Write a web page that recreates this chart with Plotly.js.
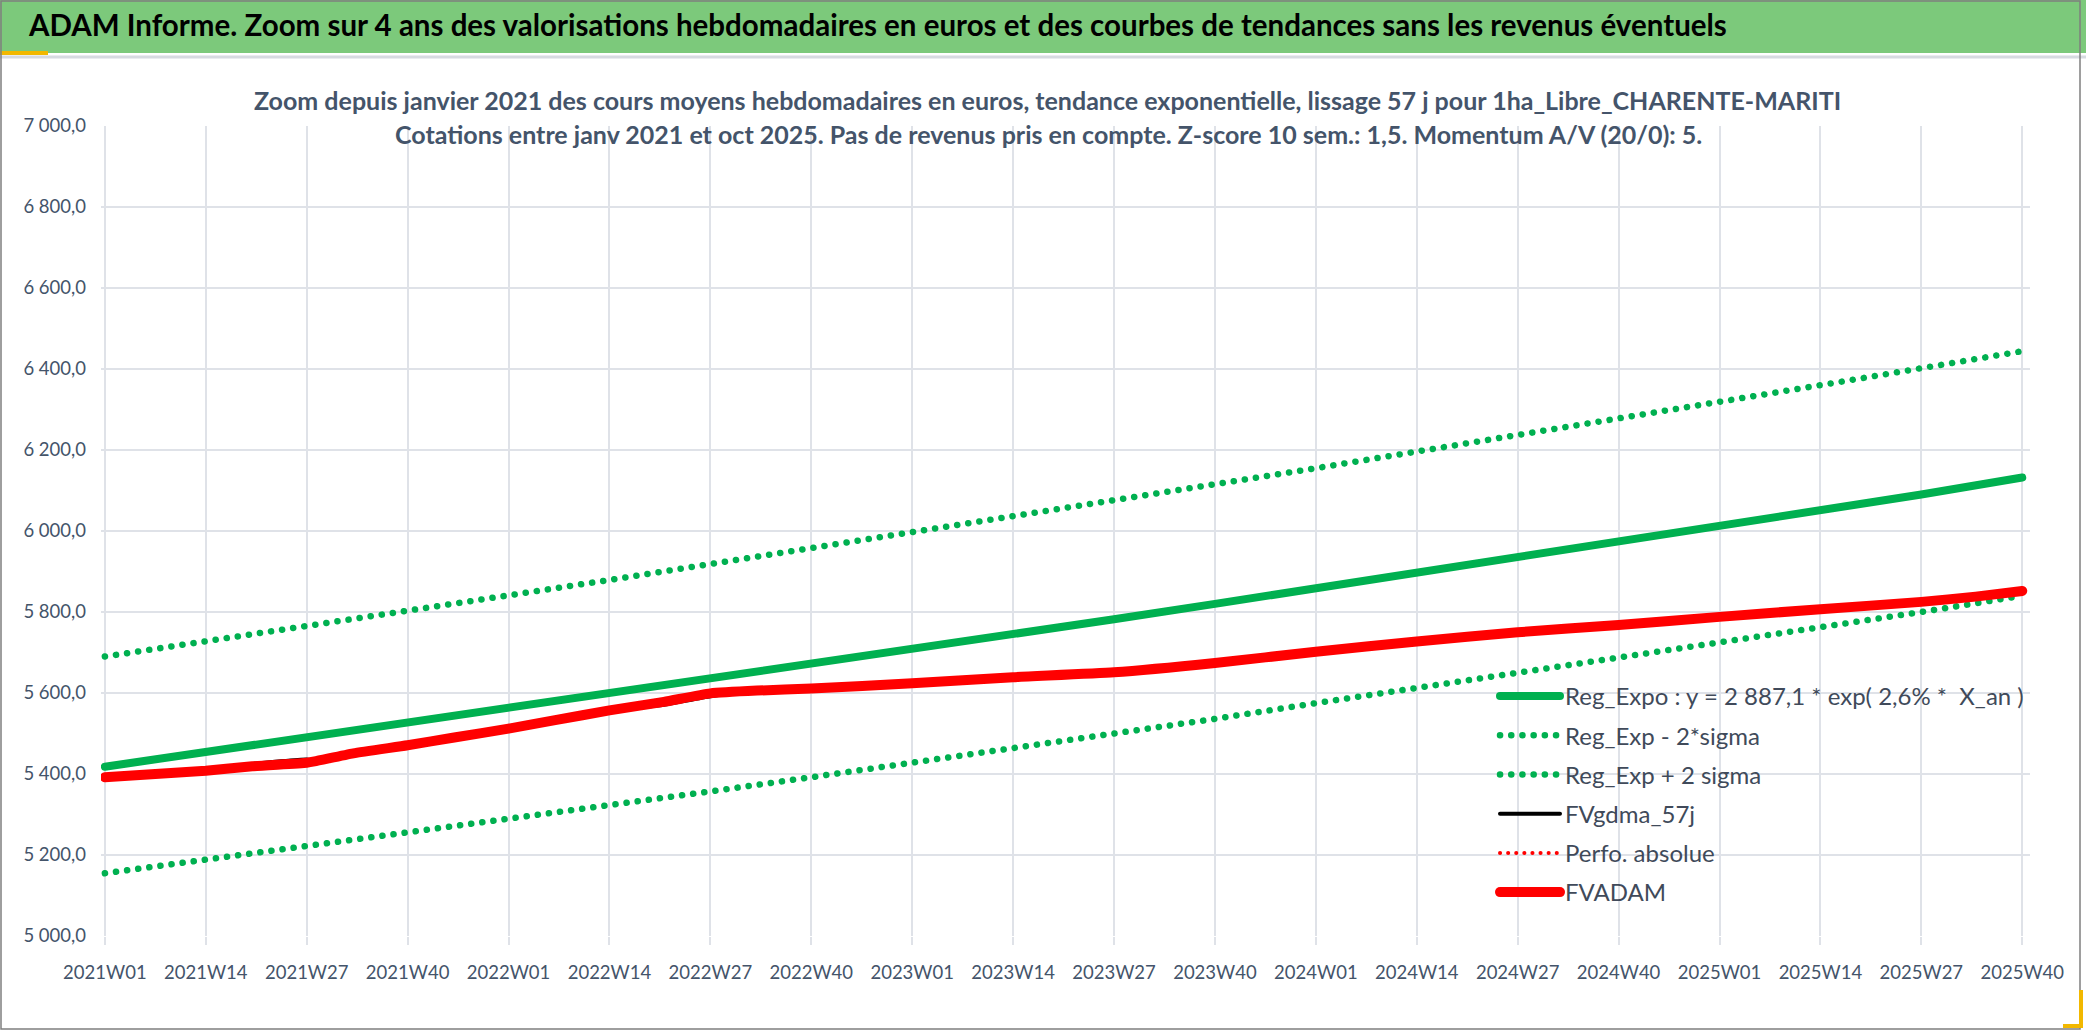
<!DOCTYPE html>
<html>
<head>
<meta charset="utf-8">
<script src="https://cdn.plot.ly/plotly-3.0.1.min.js"></script>
<style>
html,body{margin:0;padding:0;background:#ffffff;overflow:hidden;}
#chart{width:2086px;height:1031px;}
#chart path.js-line{stroke-linecap:round;stroke-linejoin:round;}
</style>
</head>
<body>
<div id="chart"></div>
<script>
// ---------- data ----------
const tickLabels = ['2021W01','2021W14','2021W27','2021W40','2022W01','2022W14','2022W27','2022W40',
  '2023W01','2023W14','2023W27','2023W40','2024W01','2024W14','2024W27','2024W40',
  '2025W01','2025W14','2025W27','2025W40'];

const regWeeks = ['2021W01','2021W14','2021W27','2021W40','2022W01','2022W14','2022W27','2022W40',
  '2023W01','2023W14','2023W27','2023W40','2024W01','2024W14','2024W27','2024W40',
  '2025W01','2025W14','2025W27','2025W40'];
const regExpo  = [5418,5454,5490,5526,5562,5598,5635,5671,5708,5745,5782,5820,5858,5896,5934,5973,6012,6051,6090,6132];
const regMinus = [5155,5188,5221,5254,5288,5322,5357,5392,5427,5463,5499,5536,5575,5612,5649,5686,5724,5762,5800,5840];
const regPlus  = [5690,5727,5765,5803,5841,5879,5918,5957,5996,6035,6075,6115,6155,6196,6236,6277,6318,6360,6402,6444];

const adamWeeks = ['2021W01','2021W14','2021W20','2021W27','2021W28','2021W33','2021W40','2021W46',
  '2022W01','2022W07','2022W14','2022W21','2022W27','2022W33','2022W40',
  '2023W01','2023W14','2023W27','2023W40','2024W01','2024W14','2024W27','2024W40',
  '2025W01','2025W14','2025W27','2025W34','2025W40'];
const fvadam = [5392,5408,5419,5428,5431,5451,5471,5490,5512,5533,5557,5578,5599,5606,5611,
  5624,5639,5651,5674,5702,5727,5750,5768,5788,5807,5825,5838,5852];
const fvgdma = [5392,5408,5425,5436,5433,5451,5471,5490,5512,5533,5556,5571,5592,5604,5611,
  5624,5639,5651,5674,5702,5727,5750,5768,5788,5807,5825,5837,5848];
const perfoAbs = [5392,5408,5419,5428,5431,5451,5471,5490,5512,5533,5557,5578,5599,5606,5611,
  5624,5639,5651,5674,5702,5727,5750,5768,5788,5807,5825,5838,5852];

const seriesNames = ['Reg_Expo : y = 2 887,1 * exp( 2,6% *  X_an )','Reg_Exp - 2*sigma','Reg_Exp + 2 sigma',
  'FVgdma_57j','Perfo. absolue','FVADAM'];

const headerTitle = 'ADAM Informe. Zoom sur 4 ans des valorisations hebdomadaires en euros et des courbes de tendances sans les revenus éventuels';
const subTitle1 = 'Zoom depuis janvier 2021 des cours moyens hebdomadaires en euros, tendance exponentielle, lissage 57 j pour 1ha_Libre_CHARENTE-MARITI';
const subTitle2 = 'Cotations entre janv 2021 et oct 2025. Pas de revenus pris en compte. Z-score 10 sem.: 1,5. Momentum A/V (20/0): 5.';

// ---------- helpers ----------
function wk(s){ return (parseInt(s.slice(0,4),10)-2021)*52 + parseInt(s.slice(5),10) - 1; }
const W=2086, H=1031, L=101, R=56, T=126, B=95;
const PW=W-L-R, PH=H-T-B;
const fx = px => (px-L)/PW;
const fy = py => (H-B-py)/PH;

const FONT = 'Lato, "Open Sans", sans-serif';
const TXT = '#44546a';
const GREEN = '#00b050', RED = '#ff0000';
const GRID = '#dfe2e8';

const traces = [
  {name: seriesNames[0], legendgroup:'g0', x: regWeeks.map(wk), y: regExpo, mode:'lines', line:{color:GREEN, width:8}},
  {name: seriesNames[1], legendgroup:'g1', x: regWeeks.map(wk), y: regMinus, mode:'lines', line:{color:GREEN, width:6.5, dash:'0.1px,11.1px'}},
  {name: seriesNames[2], legendgroup:'g2', x: regWeeks.map(wk), y: regPlus, mode:'lines', line:{color:GREEN, width:6.5, dash:'0.1px,11.1px'}},
  {name: seriesNames[3], legendgroup:'g3', x: adamWeeks.map(wk), y: fvgdma, mode:'lines', line:{color:'#000000', width:4, shape:'spline', smoothing:0.5}},
  {name: seriesNames[4], legendgroup:'g4', x: adamWeeks.map(wk), y: perfoAbs, mode:'lines', line:{color:RED, width:4, dash:'0.1px,8px', shape:'spline', smoothing:0.5}},
  {name: seriesNames[5], legendgroup:'g5', x: adamWeeks.map(wk), y: fvadam, mode:'lines', line:{color:RED, width:10, shape:'spline', smoothing:0.5}}
];

const layout = {
  width: W, height: H,
  margin: {l:L, r:R, t:T, b:B},
  paper_bgcolor: '#ffffff',
  plot_bgcolor: '#ffffff',
  separators: ', ',
  showlegend: true,
  title: {
    text: headerTitle,
    xref: 'container', yref: 'container',
    x: 29/W, xanchor: 'left',
    y: 1 - 26/H, yanchor: 'middle',
    font: {family: FONT, size: 29.5, color: '#000000', weight: 'bold'}
  },
  xaxis: {
    type: 'linear',
    range: [-0.5, 248],
    tickmode: 'array',
    tickvals: tickLabels.map(wk),
    ticktext: tickLabels,
    tickangle: 0,
    showgrid: true, gridcolor: GRID, gridwidth: 2,
    ticks: 'outside', ticklen: 8, tickwidth: 2, tickcolor: GRID,
    ticklabelstandoff: 12,
    zeroline: false, showline: false,
    tickfont: {family: FONT, size: 18.5, color: TXT},
    fixedrange: true
  },
  yaxis: {
    range: [5000, 7000],
    dtick: 200,
    tickformat: ',.1f',
    showgrid: true, gridcolor: GRID, gridwidth: 2,
    zeroline: false, showline: false,
    ticks: '',
    ticklabelstandoff: 14,
    tickfont: {family: FONT, size: 18.5, color: TXT},
    fixedrange: true
  },
  legend: {
    x: fx(1495), y: fy(674), xanchor: 'left', yanchor: 'top',
    bgcolor: 'rgba(0,0,0,0)', borderwidth: 0,
    font: {family: FONT, size: 24, color: '#404a5a'},
    itemwidth: 60,
    traceorder: 'grouped',
    tracegroupgap: 5
  },
  annotations: [
    {text: subTitle1, xref:'paper', yref:'paper', x: fx(1047), y: fy(100), xanchor:'center', yanchor:'middle', showarrow:false,
     font:{family: FONT, size: 25, color: TXT, weight:'bold'}},
    {text: subTitle2, xref:'paper', yref:'paper', x: fx(1048), y: fy(134), xanchor:'center', yanchor:'middle', showarrow:false,
     font:{family: FONT, size: 25, color: TXT, weight:'bold'}}
  ],
  shapes: [
    {type:'rect', xref:'paper', yref:'paper', x0: fx(0), x1: fx(W), y0: fy(53), y1: fy(0), fillcolor:'#7cc97b', line:{width:0}, layer:'below'},
    {type:'line', xref:'paper', yref:'paper', x0: fx(0), x1: fx(W), y0: fy(57), y1: fy(57), line:{color:'#d6dae0', width:3}, layer:'below'},
    {type:'rect', xref:'paper', yref:'paper', x0: fx(0), x1: fx(48), y0: fy(55), y1: fy(51), fillcolor:'#f2b800', line:{width:0}, layer:'below'},
    {type:'rect', xref:'paper', yref:'paper', x0: fx(1), x1: fx(2080), y0: fy(1029), y1: fy(1), fillcolor:'rgba(0,0,0,0)', line:{color:'#7f7f7f', width:1.5}, layer:'below'},
    {type:'path', xref:'paper', yref:'paper',
     path: 'M ' + fx(2063) + ' ' + fy(1026) + ' L ' + fx(2081) + ' ' + fy(1026) + ' L ' + fx(2081) + ' ' + fy(990),
     line:{color:'#f2b800', width:4}, layer:'below'}
  ]
};

Plotly.newPlot('chart', traces, layout, {displayModeBar:false, staticPlot:true});
</script>
</body>
</html>
